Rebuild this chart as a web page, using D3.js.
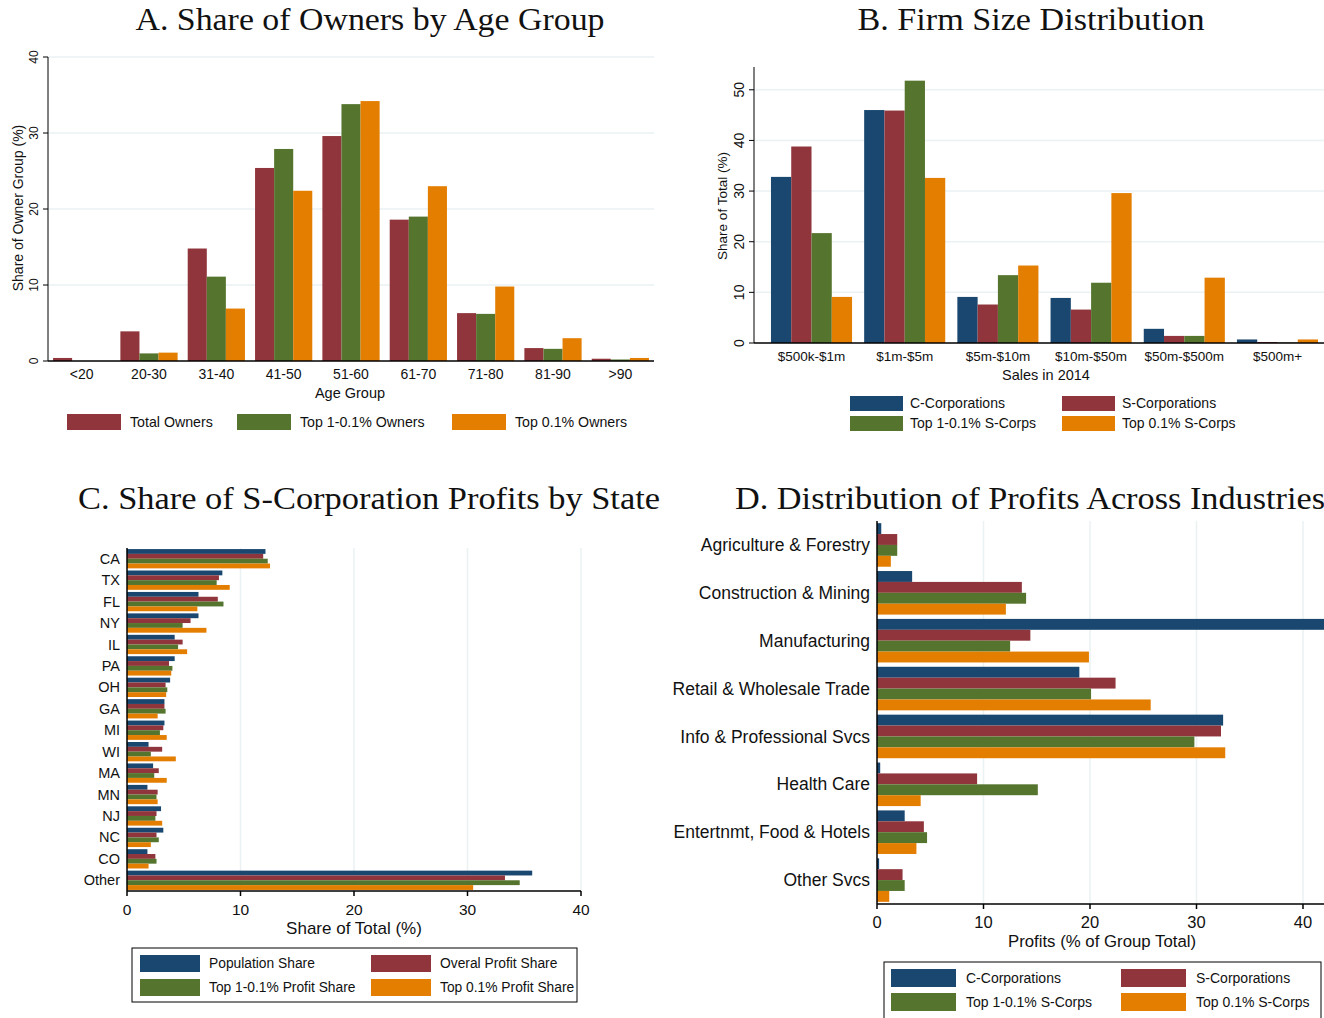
<!DOCTYPE html>
<html>
<head>
<meta charset="utf-8">
<script src="https://cdn.jsdelivr.net/npm/d3@7/dist/d3.min.js"></script>
<style>
  body { margin: 0; background: #fff; }
  svg { display: block; }
  text { font-family: "Liberation Sans", Arial, sans-serif; fill: #111; }
  .title { font-family: "Liberation Serif", "Times New Roman", serif; font-size: 31px; }
</style>
</head>
<body>
<svg id="chart" width="1324" height="1018"></svg>
<script>
// colours (stata s2color-ish)
const navy = '#1a476f', maroon = '#90353b', forest = '#55752f', dkorange = '#e37e00';
const gridColor = '#eaf2f3';

// A. share of owners by age group
const ageGroups = ['<20', '20-30', '31-40', '41-50', '51-60', '61-70', '71-80', '81-90', '>90'];
const ageTotal = [0.4, 3.9, 14.8, 25.4, 29.6, 18.6, 6.3, 1.7, 0.3];
const ageTop1 = [0.0, 1.0, 11.1, 27.9, 33.8, 19.0, 6.2, 1.6, 0.2];
const ageTop01 = [0.0, 1.1, 6.9, 22.4, 34.2, 23.0, 9.8, 3.0, 0.4];
const ageTicks = [0, 10, 20, 30, 40];

// B. firm size distribution
const sizeCats = ['$500k-$1m', '$1m-$5m', '$5m-$10m', '$10m-$50m', '$50m-$500m', '$500m+'];
const sizeC = [32.8, 46.0, 9.1, 8.9, 2.8, 0.7];
const sizeS = [38.8, 45.9, 7.6, 6.6, 1.4, 0.2];
const sizeTop1 = [21.7, 51.8, 13.4, 11.9, 1.4, 0.1];
const sizeTop01 = [9.1, 32.6, 15.3, 29.6, 12.9, 0.7];
const sizeTicks = [0, 10, 20, 30, 40, 50];

// C. share of s-corp profits by state
const states = ['CA', 'TX', 'FL', 'NY', 'IL', 'PA', 'OH', 'GA', 'MI', 'WI', 'MA', 'MN', 'NJ', 'NC', 'CO', 'Other'];
const statePop = [12.2, 8.4, 6.3, 6.3, 4.2, 4.2, 3.8, 3.3, 3.3, 1.9, 2.3, 1.8, 3.0, 3.2, 1.8, 35.7];
const stateProfit = [12.0, 8.1, 8.0, 5.6, 4.9, 3.7, 3.4, 3.3, 3.2, 3.1, 2.8, 2.7, 2.6, 2.6, 2.5, 33.3];
const stateTop1 = [12.4, 7.9, 8.5, 4.9, 4.5, 4.0, 3.55, 3.4, 2.9, 2.1, 2.4, 2.6, 2.5, 2.8, 2.6, 34.6];
const stateTop01 = [12.6, 9.05, 6.2, 7.0, 5.3, 3.9, 3.45, 2.7, 3.5, 4.3, 3.5, 2.7, 3.1, 2.1, 1.9, 30.5];
const stateTicks = [0, 10, 20, 30, 40];

// D. distribution of profits across industries
const industries = ['Agriculture & Forestry', 'Construction & Mining', 'Manufacturing', 'Retail & Wholesale Trade',
  'Info & Professional Svcs', 'Health Care', 'Entertnmt, Food & Hotels', 'Other Svcs'];
const indC = [0.4, 3.3, 45.0, 19.0, 32.5, 0.3, 2.6, 0.2];
const indS = [1.9, 13.6, 14.4, 22.4, 32.3, 9.4, 4.4, 2.4];
const indTop1 = [1.9, 14.0, 12.5, 20.1, 29.8, 15.1, 4.7, 2.6];
const indTop01 = [1.3, 12.1, 19.9, 25.7, 32.7, 4.1, 3.7, 1.15];
const indTicks = [0, 10, 20, 30, 40];

const svg = d3.select('#chart');

function title(txt, x, y, len) {
  svg.append('text').attr('class', 'title')
    .attr('x', x).attr('y', y)
    .attr('text-anchor', 'middle')
    .attr('textLength', len).attr('lengthAdjust', 'spacingAndGlyphs')
    .text(txt);
}

// vertical grouped bars
function vbars(cfg) {
  const g = svg.append('g');
  const x = d3.scaleBand().domain(cfg.cats).range([cfg.left, cfg.right])
    .paddingInner(cfg.padIn).paddingOuter(cfg.padOut);
  const sub = d3.scaleBand().domain(d3.range(cfg.series.length)).range([0, x.bandwidth()]);
  const y = d3.scaleLinear().domain(cfg.domain).range([cfg.bottom, cfg.top]);

  g.selectAll('line.grid').data(cfg.ticks.filter(t => t > 0)).join('line')
    .attr('x1', cfg.left).attr('x2', cfg.gridRight)
    .attr('y1', d => y(d)).attr('y2', d => y(d))
    .attr('stroke', gridColor).attr('stroke-width', 1.5);

  cfg.series.forEach((vals, si) => {
    g.selectAll(null).data(vals).join('rect')
      .attr('x', (d, i) => x(cfg.cats[i]) + sub(si))
      .attr('width', sub.bandwidth())
      .attr('y', d => y(d))
      .attr('height', d => y(0) - y(d))
      .attr('fill', cfg.colors[si]);
  });

  // axes
  g.append('line').attr('x1', cfg.left).attr('x2', cfg.left)
    .attr('y1', y(cfg.domain[1])).attr('y2', y(0)).attr('stroke', '#000');
  g.append('line').attr('x1', cfg.left).attr('x2', cfg.axisRight)
    .attr('y1', y(0)).attr('y2', y(0)).attr('stroke', '#000').attr('stroke-width', 1.5);
  g.selectAll('line.tick').data(cfg.ticks).join('line')
    .attr('x1', cfg.left - 5).attr('x2', cfg.left)
    .attr('y1', d => y(d)).attr('y2', d => y(d)).attr('stroke', '#000');
  g.selectAll('text.ytick').data(cfg.ticks).join('text')
    .attr('transform', d => `translate(${cfg.left - 10},${y(d)}) rotate(-90)`)
    .attr('text-anchor', 'middle')
    .style('font-size', cfg.yTickSize + 'px')
    .text(d => d);
  g.append('text')
    .attr('transform', `translate(${cfg.yLabelX},${cfg.yLabelY}) rotate(-90)`)
    .attr('text-anchor', 'middle').style('font-size', cfg.yLabelSize + 'px')
    .text(cfg.yLabel);
  g.selectAll('text.xtick').data(cfg.cats).join('text')
    .attr('x', d => x(d) + x.bandwidth() / 2).attr('y', y(0) + 18)
    .attr('text-anchor', 'middle').style('font-size', cfg.xTickSize + 'px')
    .text(d => d);
  g.append('text').attr('x', cfg.xLabelX).attr('y', y(0) + 37)
    .attr('text-anchor', 'middle').style('font-size', cfg.xLabelSize + 'px')
    .text(cfg.xLabel);
}

// horizontal grouped bars
function hbars(cfg) {
  const g = svg.append('g');
  const y = d3.scaleBand().domain(cfg.cats).range([cfg.top, cfg.bottom])
    .paddingInner(cfg.padIn).paddingOuter(cfg.padOut);
  const sub = d3.scaleBand().domain(d3.range(cfg.series.length)).range([0, y.bandwidth()]);
  const x = d3.scaleLinear().domain([0, 40]).range([cfg.left, cfg.right]);

  g.selectAll('line.grid').data(cfg.ticks.filter(t => t > 0)).join('line')
    .attr('x1', d => x(d)).attr('x2', d => x(d))
    .attr('y1', cfg.top).attr('y2', cfg.bottom)
    .attr('stroke', gridColor).attr('stroke-width', 1.5);

  cfg.series.forEach((vals, si) => {
    g.selectAll(null).data(vals).join('rect')
      .attr('x', x(0))
      .attr('width', d => x(d) - x(0))
      .attr('y', (d, i) => y(cfg.cats[i]) + sub(si))
      .attr('height', sub.bandwidth())
      .attr('fill', cfg.colors[si]);
  });

  g.append('line').attr('x1', cfg.left).attr('x2', cfg.left)
    .attr('y1', cfg.top).attr('y2', cfg.bottom).attr('stroke', '#000').attr('stroke-width', 1.5);
  g.append('line').attr('x1', cfg.left).attr('x2', cfg.axisRight)
    .attr('y1', cfg.bottom).attr('y2', cfg.bottom).attr('stroke', '#000').attr('stroke-width', 1.5);
  g.selectAll('line.tick').data(cfg.ticks).join('line')
    .attr('x1', d => x(d)).attr('x2', d => x(d))
    .attr('y1', cfg.bottom).attr('y2', cfg.bottom + 5).attr('stroke', '#000').attr('stroke-width', 1.5);
  g.selectAll('text.xtick').data(cfg.ticks).join('text')
    .attr('x', d => x(d)).attr('y', cfg.bottom + 24)
    .attr('text-anchor', 'middle').style('font-size', cfg.xTickSize + 'px')
    .text(d => d);
  g.append('text').attr('x', cfg.xLabelX).attr('y', cfg.bottom + 43)
    .attr('text-anchor', 'middle').style('font-size', cfg.xLabelSize + 'px')
    .text(cfg.xLabel);
  g.selectAll('text.ycat').data(cfg.cats).join('text')
    .attr('x', cfg.left - 7).attr('y', d => y(d) + y.bandwidth() / 2)
    .attr('dy', '0.35em')
    .attr('text-anchor', 'end').style('font-size', cfg.yCatSize + 'px')
    .text(d => d);
}

function legend(items, cfg) {
  const g = svg.append('g');
  if (cfg.box) {
    g.append('rect').attr('x', cfg.box[0]).attr('y', cfg.box[1])
      .attr('width', cfg.box[2]).attr('height', cfg.box[3])
      .attr('fill', 'none').attr('stroke', '#000');
  }
  items.forEach((it, i) => {
    const col = i % cfg.cols, row = Math.floor(i / cfg.cols);
    const x0 = cfg.xs[col], y0 = cfg.y + row * cfg.rowH;
    g.append('rect').attr('x', x0).attr('y', y0)
      .attr('width', cfg.sw).attr('height', cfg.sh).attr('fill', it[1]);
    g.append('text').attr('x', x0 + cfg.sw + cfg.gap).attr('y', y0 + cfg.sh / 2)
      .attr('dy', '0.35em').style('font-size', cfg.fs + 'px').text(it[0]);
  });
}

// ---------- panel A
title('A. Share of Owners by Age Group', 370, 30, 469);
vbars({
  cats: ageGroups, series: [ageTotal, ageTop1, ageTop01], colors: [maroon, forest, dkorange],
  left: 48, right: 654, top: 57, bottom: 361, domain: [0, 40], ticks: ageTicks,
  padIn: 0.15, padOut: 0.075, gridRight: 654, axisRight: 654,
  yTickSize: 12, yLabel: 'Share of Owner Group (%)', yLabelX: 23, yLabelY: 208, yLabelSize: 14,
  xTickSize: 14, xLabel: 'Age Group', xLabelX: 350, xLabelSize: 14.5
});
legend([['Total Owners', maroon], ['Top 1-0.1% Owners', forest], ['Top 0.1% Owners', dkorange]],
  { xs: [67, 237, 452], y: 414, cols: 3, rowH: 20, sw: 54, sh: 16, gap: 9, fs: 14.2 });

// ---------- panel B
title('B. Firm Size Distribution', 1031, 30, 347);
vbars({
  cats: sizeCats, series: [sizeC, sizeS, sizeTop1, sizeTop01], colors: [navy, maroon, forest, dkorange],
  left: 754, right: 1335, top: 67, bottom: 343, domain: [0, 54.5], ticks: sizeTicks,
  padIn: 0.13, padOut: 0.182, gridRight: 1324, axisRight: 1324,
  yTickSize: 14, yLabel: 'Share of Total (%)', yLabelX: 727, yLabelY: 206, yLabelSize: 13.5,
  xTickSize: 13.5, xLabel: 'Sales in 2014', xLabelX: 1046, xLabelSize: 14.5
});
legend([['C-Corporations', navy], ['S-Corporations', maroon], ['Top 1-0.1% S-Corps', forest], ['Top 0.1% S-Corps', dkorange]],
  { xs: [850, 1062], y: 396, cols: 2, rowH: 20, sw: 53, sh: 15, gap: 7, fs: 14 });

// ---------- panel C
title('C. Share of S-Corporation Profits by State', 369, 509, 582);
hbars({
  cats: states, series: [statePop, stateProfit, stateTop1, stateTop01], colors: [navy, maroon, forest, dkorange],
  left: 127, right: 581, top: 548, bottom: 891, ticks: stateTicks, axisRight: 581,
  padIn: 0.1, padOut: 0.05, xTickSize: 15.5, xLabel: 'Share of Total (%)', xLabelX: 354, xLabelSize: 17,
  yCatSize: 14.5
});
legend([['Population Share', navy], ['Overal Profit Share', maroon], ['Top 1-0.1% Profit Share', forest], ['Top 0.1% Profit Share', dkorange]],
  { xs: [140, 371], y: 955, cols: 2, rowH: 24, sw: 60, sh: 17, gap: 9, fs: 13.8, box: [132, 948, 445, 54] });

// ---------- panel D
title('D. Distribution of Profits Across Industries', 1030, 509, 590);
hbars({
  cats: industries, series: [indC, indS, indTop1, indTop01], colors: [navy, maroon, forest, dkorange],
  left: 877, right: 1303, top: 521, bottom: 904, ticks: indTicks, axisRight: 1324,
  padIn: 0.09, padOut: 0.045, xTickSize: 16.5, xLabel: 'Profits (% of Group Total)', xLabelX: 1102, xLabelSize: 16.8,
  yCatSize: 17.5
});
legend([['C-Corporations', navy], ['S-Corporations', maroon], ['Top 1-0.1% S-Corps', forest], ['Top 0.1% S-Corps', dkorange]],
  { xs: [891, 1121], y: 969, cols: 2, rowH: 24, sw: 65, sh: 18, gap: 10, fs: 14, box: [884, 962, 437, 60] });
</script>
</body>
</html>
